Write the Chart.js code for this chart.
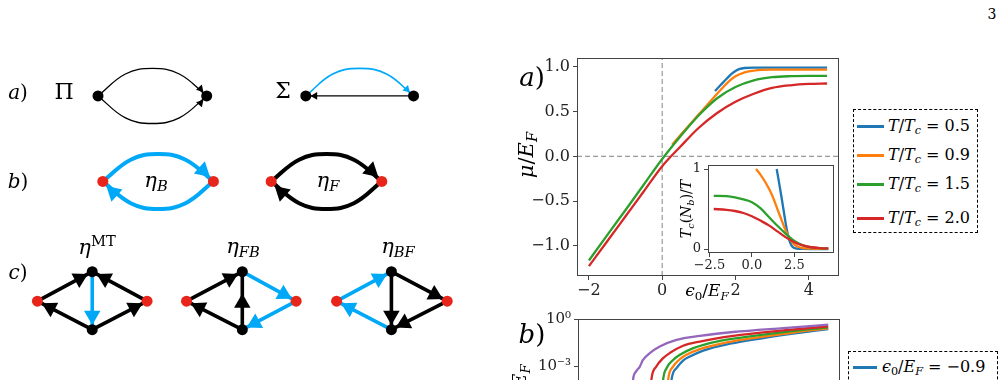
<!DOCTYPE html>
<html><head><meta charset="utf-8">
<script src="https://cdn.jsdelivr.net/npm/chart.js@4.4.1/dist/chart.umd.min.js"></script>
<style>
html,body{margin:0;padding:0;background:#fff;width:1004px;height:380px;overflow:hidden;position:relative;font-family:'DejaVu Serif','Liberation Serif',serif;color:#000}
canvas{position:absolute}
.t{position:absolute;white-space:nowrap;line-height:1;transform:translate(-50%,-50%)}
.r{transform:translate(-50%,-50%) rotate(-90deg)}
.sb{font-size:0.7em;position:relative;top:0.3em}
.sp{font-size:0.7em;position:relative;top:-0.55em}
.leg{position:absolute;box-sizing:border-box;border:1px dashed #000;background:#fff}
.row{position:absolute;left:0;height:0}
.sw{position:absolute;height:3px;margin-top:-1.5px}
.lt{position:absolute;white-space:nowrap;line-height:1;transform:translateY(-50%);font-size:16px}
</style></head><body>
<canvas id="diag" width="500" height="380" style="left:0;top:0"></canvas>
<canvas id="main" width="345" height="300" style="left:500px;top:0"></canvas>
<canvas id="pb" width="345" height="160" style="left:500px;top:300px"></canvas>
<canvas id="inset" width="170" height="150" style="left:670px;top:150px"></canvas>

<div class="t" style="left:992px;top:14px;font-size:14px">3</div>
<div class="t" style="left:18px;top:92px;font-size:20px"><i>a</i>)</div>
<div class="t" style="left:64px;top:92px;font-size:22px">Π</div>
<div class="t" style="left:283px;top:91px;font-size:22px">Σ</div>
<div class="t" style="left:18px;top:181px;font-size:20px"><i>b</i>)</div>
<div class="t" style="left:156px;top:180px;font-size:21px"><i>η</i><span class="sb"><i>B</i></span></div>
<div class="t" style="left:328px;top:180px;font-size:21px"><i>η</i><span class="sb"><i>F</i></span></div>
<div class="t" style="left:18px;top:272px;font-size:20px"><i>c</i>)</div>
<div class="t" style="left:97px;top:247px;font-size:21px"><i>η</i><span class="sp">MT</span></div>
<div class="t" style="left:243px;top:246px;font-size:21px"><i>η</i><span class="sb"><i>FB</i></span></div>
<div class="t" style="left:398px;top:246px;font-size:21px"><i>η</i><span class="sb"><i>BF</i></span></div>

<div class="t" style="left:532px;top:77px;font-size:26px"><i>a</i>)</div>
<div class="t r" style="left:526px;top:155px;font-size:21px"><i>μ</i>/<i>E</i><span class="sb"><i>F</i></span></div>
<div class="t r" style="left:686px;top:209px;font-size:14px"><i>T</i><span class="sb"><i>c</i></span>(<i>N</i><span class="sb"><i>b</i></span>)/<i>T</i></div>
<div class="t" style="left:707px;top:290px;font-size:17px"><i>ϵ</i><span class="sb">0</span>/<i>E</i><span class="sb"><i>F</i></span></div>
<div class="t" style="left:532px;top:334px;font-size:26px"><i>b</i>)</div>
<div class="t r" style="left:519px;top:386px;font-size:19px"><i>Δ</i>/<i>E</i><span class="sb"><i>F</i></span></div>

<div id="legA" class="leg" style="left:853px;top:109px;width:125px;height:124px"></div>
<div id="legB" class="leg" style="left:848px;top:351px;width:150px;height:140px"></div>

<script>
// ---------- panel a) main data ----------
const epsGrid = [-2,-1.5,-1,-0.5,0,0.5,1,1.5,2,2.5,3,3.5,4,4.5];
const muGreen = [-1.165,-0.88,-0.60,-0.315,-0.03,0.225,0.46,0.65,0.775,0.85,0.885,0.897,0.90,0.90];
const muRed   = [-1.227,-0.95,-0.67,-0.39,-0.11,0.11,0.32,0.485,0.61,0.70,0.765,0.795,0.81,0.815];
const epsOrange = [0.27,0.5,1,1.5,1.8,2,2.25,2.5,3,3.5,4,4.5];
const muOrange  = [0.13,0.24,0.47,0.70,0.83,0.895,0.94,0.96,0.97,0.97,0.97,0.97];
const epsBlue = [1.44,1.6,1.75,1.9,2.0,2.1,2.25,2.5,3,3.5,4,4.5];
const muBlue  = [0.73,0.80,0.865,0.925,0.955,0.975,0.988,0.993,0.993,0.993,0.993,0.993];
const xTicksMain = [-2,0,2,4];
const yTicksMain = [-1,-0.5,0,0.5,1];
const seriesLabels = ['0.5','0.9','1.5','2.0'];

// ---------- inset data ----------
const epsInset = [-2.25,-1.5,-1,-0.5,0,0.5,1,1.5,2,2.5,3,3.5,4,4.5];
const tcGreen = [0.665,0.66,0.645,0.62,0.585,0.51,0.40,0.29,0.19,0.10,0.045,0.02,0.01,0.005];
const tcRed   = [0.50,0.49,0.475,0.45,0.41,0.355,0.295,0.22,0.145,0.085,0.045,0.022,0.012,0.007];
const epsInsetOrange = [0.24,0.5,0.75,1,1.25,1.5,1.75,2,2.25,2.5,2.75,3,3.5,4,4.5];
const tcOrange = [1.0,0.93,0.85,0.755,0.64,0.50,0.36,0.225,0.12,0.055,0.025,0.012,0.004,0.002,0.001];
const epsInsetBlue = [1.46,1.6,1.75,1.9,2.05,2.2,2.35,2.5,2.7,3,3.5,4,4.5];
const tcBlue = [1.0,0.83,0.64,0.44,0.25,0.11,0.04,0.012,0.003,0.001,0,0,0];
const xTicksInset = [-2.5,0,2.5];
const yTicksInset = [0,1];

// ---------- panel b) data (partially visible) ----------
const bxPurple = [0.205,0.21,0.222,0.236,0.248,0.274,0.312,0.376,0.465,0.592,0.783,0.955];
const byPurple = [1e-5,1.45e-4,5.0e-4,1.0e-3,2.6e-3,7.1e-3,1.86e-2,4.9e-2,8.7e-2,0.151,0.269,0.437];
const bxRed = [0.275,0.280,0.299,0.325,0.350,0.401,0.465,0.592,0.783,0.955];
const byRed = [1e-5,1.45e-4,1e-3,3.4e-3,7.1e-3,2.04e-2,3.8e-2,8.7e-2,0.19,0.339];
const bxGreen = [0.32,0.325,0.338,0.363,0.389,0.44,0.529,0.656,0.809,0.955];
const byGreen = [1e-5,1.45e-4,7.9e-4,2.6e-3,5.5e-3,1.45e-2,3.8e-2,7.9e-2,0.166,0.295];
const bxOrange = [0.339,0.344,0.363,0.389,0.414,0.465,0.567,0.694,0.822,0.955];
const byOrange = [1e-5,1.45e-4,1e-3,2.95e-3,5.5e-3,1.26e-2,3.3e-2,7.2e-2,0.141,0.257];
const bxBlue = [0.352,0.357,0.376,0.401,0.427,0.478,0.58,0.707,0.835,0.955];
const byBlue = [1e-5,1.45e-4,7.9e-4,2.4e-3,4.3e-3,1.02e-2,2.75e-2,6.3e-2,0.129,0.234];
const yTicksB = [1e-6,1e-3,1];
const legendBLabels = ['−0.9'];

const C = {blue:'#1f77b4',orange:'#ff7f0e',green:'#2ca02c',red:'#d62728',purple:'#9467bd'};
const seriesColors = [C.blue,C.orange,C.green,C.red];
const DB = '#00a8f8', DR = '#e8251b', DK = '#000';

Chart.defaults.font.family = "'DejaVu Serif','Liberation Serif',serif";
Chart.defaults.color = '#222';

const framePlugin = {id:'frame', afterDatasetsDraw(chart){
  const {ctx, chartArea:a} = chart; ctx.save(); ctx.strokeStyle='#444'; ctx.lineWidth=1;
  ctx.strokeRect(Math.round(a.left)+0.5, Math.round(a.top)+0.5, Math.round(a.right-a.left)-1, Math.round(a.bottom-a.top)-1);
  ctx.restore(); }};
const bgPlugin = {id:'bg', beforeDraw(chart){
  const {ctx, chartArea:a} = chart; ctx.save(); ctx.fillStyle='#fff';
  ctx.fillRect(a.left,a.top,a.right-a.left,a.bottom-a.top); ctx.restore(); }};

const pts = (xs,ys)=>xs.map((x,i)=>({x,y:ys[i]}));
const line = (xs,ys,color,order,w)=>({data:pts(xs,ys),borderColor:color,borderWidth:w||2.3,pointRadius:0,
  cubicInterpolationMode:'monotone',fill:false,order});
const fmt1 = v => (v<0?'−':'')+Math.abs(v).toFixed(1);
const fmt0 = v => (v<0?'−':'')+Math.abs(v).toFixed(0);
const base = {animation:false,responsive:false,events:[],plugins:{legend:{display:false},tooltip:{enabled:false}}};
const axis = (o)=>Object.assign({type:'linear',grid:{drawOnChartArea:false,tickLength:4,color:'#444'},border:{display:false}},o);

// main chart
const xMin=-2.325, xMax=4.825, yMin=-1.338, yMax=1.1;
new Chart(document.getElementById('main'),{
  type:'line',
  data:{datasets:[
    {data:[{x:xMin,y:0},{x:xMax,y:0}],borderColor:'#999',borderWidth:1.2,borderDash:[5,3],pointRadius:0,order:10},
    {data:[{x:0,y:yMin},{x:0,y:yMax}],borderColor:'#999',borderWidth:1.2,borderDash:[5,3],pointRadius:0,order:10},
    line(epsBlue,muBlue,C.blue,4),
    line(epsOrange,muOrange,C.orange,3),
    line(epsGrid,muGreen,C.green,2),
    line(epsGrid,muRed,C.red,1)
  ]},
  options:Object.assign({},base,{
    layout:{padding:{top:58,right:6,left:0,bottom:0}},
    scales:{
      x:axis({min:xMin,max:xMax,afterBuildTicks:s=>{s.ticks=xTicksMain.map(v=>({value:v}));},afterFit:s=>{s.height=24;},
        ticks:{font:{size:16},padding:1,maxRotation:0,autoSkip:false,callback:v=>fmt0(v)}}),
      y:axis({min:yMin,max:yMax,afterBuildTicks:s=>{s.ticks=yTicksMain.map(v=>({value:v}));},afterFit:s=>{s.width=77;},
        ticks:{font:{size:16},padding:3,autoSkip:false,callback:v=>fmt1(v)}})
    }}),
  plugins:[framePlugin]
});

// inset
new Chart(document.getElementById('inset'),{
  type:'line',
  data:{datasets:[
    line(epsInsetBlue,tcBlue,C.blue,4),
    line(epsInsetOrange,tcOrange,C.orange,3),
    line(epsInset,tcGreen,C.green,2),
    line(epsInset,tcRed,C.red,1)
  ]},
  options:Object.assign({},base,{
    layout:{padding:{top:15,right:6,left:0,bottom:0}},
    scales:{
      x:axis({min:-2.5875,max:4.8375,afterBuildTicks:s=>{s.ticks=xTicksInset.map(v=>({value:v}));},afterFit:s=>{s.height=47;},
        ticks:{font:{size:13},padding:1,maxRotation:0,autoSkip:false,callback:v=>fmt1(v)}}),
      y:axis({min:-0.05,max:1.05,afterBuildTicks:s=>{s.ticks=yTicksInset.map(v=>({value:v}));},afterFit:s=>{s.width=38;},
        ticks:{font:{size:13},padding:3,autoSkip:false,callback:v=>fmt0(v)}})
    }}),
  plugins:[bgPlugin,framePlugin]
});

// panel b
const supMap = {'-':'⁻','0':'⁰','1':'¹','2':'²','3':'³','4':'⁴','5':'⁵','6':'⁶','7':'⁷','8':'⁸','9':'⁹'};
new Chart(document.getElementById('pb'),{
  type:'line',
  data:{datasets:[
    line(bxBlue,byBlue,C.blue,5),
    line(bxOrange,byOrange,C.orange,4),
    line(bxGreen,byGreen,C.green,3),
    line(bxRed,byRed,C.red,2),
    line(bxPurple,byPurple,C.purple,1)
  ]},
  options:Object.assign({},base,{
    layout:{padding:{top:19,right:5,left:0,bottom:0}},
    scales:{
      x:axis({min:0,max:1,afterFit:s=>{s.height=30;},ticks:{display:false}}),
      y:axis({type:'logarithmic',min:1e-7,max:1,afterBuildTicks:s=>{s.ticks=yTicksB.map(v=>({value:v}));},afterFit:s=>{s.width=78;},
        ticks:{font:{size:15},padding:3,autoSkip:false,callback:v=>'10'+String(Math.round(Math.log10(v))).split('').map(c=>supMap[c]).join('')}})
    }}),
  plugins:[framePlugin]
});

// legends (HTML, built from the series arrays)
const legA = document.getElementById('legA');
const rowsA = [16,45,74,108];
seriesLabels.forEach((lab,i)=>{
  const r=document.createElement('div'); r.className='row'; r.style.top=rowsA[i]+'px';
  r.innerHTML='<div class="sw" style="left:3px;width:27px;background:'+seriesColors[i]+'"></div>'+
    '<div class="lt" style="left:34px"><i>T</i>/<i>T</i><span class="sb"><i>c</i></span> = '+lab+'</div>';
  legA.appendChild(r);
});
const legB = document.getElementById('legB');
legendBLabels.forEach((lab,i)=>{
  const r=document.createElement('div'); r.className='row'; r.style.top=(15+i*29)+'px';
  r.innerHTML='<div class="sw" style="left:4px;width:24px;background:'+[C.blue,C.orange,C.green,C.red,C.purple][i]+'"></div>'+
    '<div class="lt" style="left:33px"><i>ϵ</i><span class="sb">0</span>/<i>E</i><span class="sb"><i>F</i></span> = '+lab+'</div>';
  legB.appendChild(r);
});

// ---------- diagrams (drawn through a hidden-axis scatter chart) ----------
const nodes = [
  {x:92,y:91,c:DK},{x:205,y:91,c:DK},{x:308,y:91,c:DK},{x:420,y:91,c:DK},
  {x:97,y:181,c:DR},{x:212,y:181,c:DR},{x:272,y:181,c:DR},{x:387,y:181,c:DR},
  {x:29,y:307,c:DR},{x:86,y:276,c:DK},{x:86,y:337,c:DK},{x:143,y:307,c:DR},
  {x:184,y:307,c:DR},{x:242,y:276,c:DK},{x:242,y:337,c:DK},{x:298,y:307,c:DR},
  {x:340,y:307,c:DR},{x:397,y:276,c:DK},{x:397,y:337,c:DK},{x:455,y:307,c:DR}
];
const P = (a)=>a.map(p=>({x:p[0],y:p[1]}));
const edges = [
  // a) thin
  {p:[[92,91],[120.5,67.9],[148.5,62],[176.5,67.9],[205,91]],c:DK,w:1.3},
  {p:[[92,91],[120.5,114.1],[148.5,120],[176.5,114.1],[205,91]],c:DK,w:1.3},
  {p:[[308,91],[336,67.9],[364,62],[392,67.9],[420,91]],c:DB,w:1.6},
  {p:[[308,91],[420,91]],c:DK,w:1.3},
  // b) thick arcs
  {p:[[97,181],[126,158.1],[154.5,152],[183,158.1],[212,181]],c:DB,w:4},
  {p:[[97,181],[126,203.9],[154.5,210],[183,203.9],[212,181]],c:DB,w:4},
  {p:[[272,181],[301,158.1],[329.5,152],[358,158.1],[387,181]],c:DK,w:4},
  {p:[[272,181],[301,203.9],[329.5,210],[358,203.9],[387,181]],c:DK,w:4},
  // c) eta^MT
  {p:[[29,307],[86,276]],c:DK,w:3.6},{p:[[143,307],[86,276]],c:DK,w:3.6},{p:[[86,276],[86,337]],c:DB,w:3.6},
  {p:[[86,337],[29,307]],c:DK,w:3.6},{p:[[86,337],[143,307]],c:DK,w:3.6},
  // eta_FB
  {p:[[184,307],[242,276]],c:DK,w:3.6},{p:[[242,337],[242,276]],c:DK,w:3.6},{p:[[242,337],[184,307]],c:DK,w:3.6},
  {p:[[242,276],[298,307]],c:DB,w:3.6},{p:[[298,307],[242,337]],c:DB,w:3.6},
  // eta_BF
  {p:[[340,307],[397,276]],c:DB,w:3.6},{p:[[397,337],[340,307]],c:DB,w:3.6},{p:[[397,276],[397,337]],c:DK,w:3.6},
  {p:[[397,276],[455,307]],c:DK,w:3.6},{p:[[455,307],[397,337]],c:DK,w:3.6}
];
const arrows = [
  {x:198.5,y:83.5,a:48,c:DK,r:4.5},{x:198.5,y:98.5,a:-48,c:DK,r:4.5},
  {x:317.5,y:91,a:180,c:DK,r:4.5},{x:413,y:84,a:45,c:DB,r:4.5},
  {x:201,y:169.5,a:42,c:DB,r:9.5},{x:108,y:192.5,a:-138,c:DB,r:9.5},
  {x:376,y:169.5,a:42,c:DK,r:9.5},{x:283,y:192.5,a:-138,c:DK,r:9.5},
  {x:72.8,y:283.2,a:-28.5,c:DK,r:9.5},{x:99.2,y:283.2,a:-151.5,c:DK,r:9.5},{x:86,y:322,a:90,c:DB,r:9.5},
  {x:42.3,y:314,a:-152.2,c:DK,r:9.5},{x:129.7,y:314,a:-27.8,c:DK,r:9.5},
  {x:228.8,y:283,a:-28.1,c:DK,r:9.5},{x:242,y:309,a:-90,c:DK,r:9.5},{x:197.3,y:313.9,a:-152.6,c:DK,r:9.5},
  {x:284.9,y:299.7,a:29,c:DB,r:9.5},{x:255.2,y:330,a:151.8,c:DB,r:9.5},
  {x:383.8,y:283.2,a:-28.5,c:DB,r:9.5},{x:353.3,y:314,a:-152.2,c:DB,r:9.5},{x:397,y:322,a:90,c:DK,r:9.5},
  {x:441.8,y:300,a:28.1,c:DK,r:9.5},{x:410.3,y:330.1,a:152.7,c:DK,r:9.5}
];
const diagSets = edges.map(e=>({type:'line',data:P(e.p),borderColor:e.c,borderWidth:e.w,tension:0.4,pointRadius:0,fill:false,order:3,borderCapStyle:'butt'}));
diagSets.push({type:'scatter',data:arrows,pointStyle:'triangle',
  pointRotation:ctx=>ctx.raw?ctx.raw.a+90:0, pointRadius:ctx=>ctx.raw?ctx.raw.r:0,
  pointBackgroundColor:ctx=>ctx.raw?ctx.raw.c:'#000', pointBorderWidth:0, borderWidth:0, order:2});
diagSets.push({type:'scatter',data:nodes,pointStyle:'circle',pointRadius:5.5,
  pointBackgroundColor:ctx=>ctx.raw?ctx.raw.c:'#000', pointBorderWidth:0, borderWidth:0, order:1});
new Chart(document.getElementById('diag'),{
  type:'scatter', data:{datasets:diagSets},
  options:Object.assign({},base,{layout:{padding:0},
    scales:{x:{type:'linear',min:0,max:500,display:false},y:{type:'linear',min:0,max:380,reverse:true,display:false}}})
});
</script>
</body></html>
